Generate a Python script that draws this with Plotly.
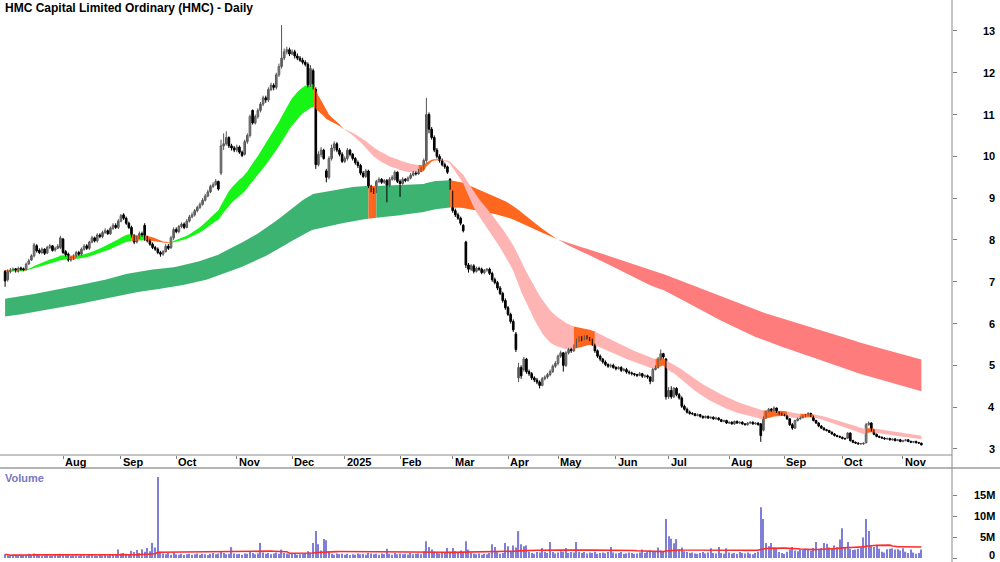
import numpy as np
import pandas as pd
import plotly.graph_objects as go

# ---------------- data ----------------
open_ = [
    7.25, 7.05, 7.24, 7.28, 7.31, 7.25, 7.33, 7.31, 7.30, 7.43,
    7.52, 7.62, 7.86, 7.75, 7.70, 7.78, 7.69, 7.82, 7.86, 7.76,
    7.80, 7.82, 8.02, 7.72, 7.66, 7.52, 7.55, 7.62, 7.70, 7.66,
    7.78, 7.86, 7.80, 7.95, 8.05, 7.98, 8.12, 8.08, 8.18, 8.22,
    8.15, 8.28, 8.35, 8.30, 8.45, 8.60, 8.52, 8.40, 8.30, 8.10,
    7.95, 8.05, 8.15, 8.35, 8.05, 7.98, 7.90, 7.82, 7.78, 7.70,
    7.66, 7.72, 7.85, 7.82, 8.05, 8.25, 8.20, 8.32, 8.38, 8.30,
    8.45, 8.55, 8.60, 8.70, 8.78, 8.85, 8.95, 9.05, 9.15, 9.28,
    9.32, 9.40, 9.60, 10.25, 10.30, 10.45, 10.25, 10.20, 10.15, 10.22,
    10.10, 10.05, 10.35, 10.50, 11.10, 10.80, 10.95, 11.10, 11.25, 11.40,
    11.35, 11.60, 11.70, 11.65, 11.95, 12.15, 12.35, 12.50, 12.55, 12.45,
    12.50, 12.40, 12.35, 12.30, 12.25, 12.20, 11.70, 12.05, 11.60, 9.80,
    10.05, 10.15, 9.65, 9.50, 9.95, 10.20, 10.30, 10.15, 10.05, 9.88,
    9.95, 10.15, 10.05, 9.95, 9.85, 9.78, 9.60, 9.52, 9.65, 9.28,
    9.20, 9.15, 9.40, 9.45, 9.38, 9.42, 9.30, 9.45, 9.45, 9.62,
    9.40, 9.35, 9.45, 9.42, 9.48, 9.55, 9.60, 9.58, 9.65, 9.72,
    9.90, 11.00, 10.65, 10.45, 10.15, 10.00, 9.90, 9.80, 9.75, 9.45,
    9.15, 8.70, 8.60, 8.52, 8.35, 7.95, 7.40, 7.30, 7.38, 7.25,
    7.32, 7.30, 7.22, 7.28, 7.30, 7.20, 7.05, 6.98, 6.85, 6.72,
    6.55, 6.38, 6.22, 6.05, 5.75, 4.70, 4.95, 4.90, 5.15, 4.85,
    4.80, 4.70, 4.65, 4.60, 4.52, 4.68, 4.72, 4.78, 4.85, 4.98,
    5.05, 5.22, 5.30, 5.00, 5.30, 5.38, 5.35, 5.45, 5.60, 5.65,
    5.62, 5.68, 5.65, 5.62, 5.50, 5.35, 5.22, 5.15, 5.08, 5.02,
    4.98, 5.00, 4.95, 4.92, 4.95, 4.88, 4.90, 4.84, 4.82, 4.80,
    4.78, 4.76, 4.80, 4.74, 4.75, 4.72, 4.62, 4.90, 4.95, 5.15,
    5.28, 5.15, 4.25, 4.40, 4.25, 4.45, 4.30, 4.22, 4.02, 3.95,
    3.88, 3.85, 3.84, 3.80, 3.82, 3.78, 3.75, 3.78, 3.74, 3.76,
    3.72, 3.74, 3.70, 3.66, 3.68, 3.62, 3.64, 3.60, 3.66, 3.62,
    3.64, 3.60, 3.58, 3.62, 3.64, 3.60, 3.62, 3.60, 3.45, 3.75,
    3.90, 3.95, 3.92, 3.98, 3.88, 3.85, 3.82, 3.80, 3.72, 3.58,
    3.50, 3.68, 3.72, 3.75, 3.78, 3.82, 3.85, 3.78, 3.68, 3.62,
    3.55, 3.50, 3.46, 3.44, 3.40, 3.36, 3.32, 3.30, 3.28, 3.25,
    3.26, 3.38, 3.20, 3.16, 3.14, 3.12, 3.12, 3.15, 3.58, 3.62,
    3.45, 3.35, 3.30, 3.28, 3.26, 3.24, 3.25, 3.22, 3.24, 3.20,
    3.22, 3.18, 3.20, 3.22, 3.18, 3.16, 3.18, 3.15, 3.14,
]
high = [
    7.28, 7.30, 7.33, 7.34, 7.33, 7.36, 7.36, 7.34, 7.46, 7.55,
    7.66, 7.93, 7.90, 7.80, 7.82, 7.80, 7.86, 7.90, 7.88, 7.84,
    7.90, 8.10, 8.05, 7.76, 7.70, 7.60, 7.66, 7.74, 7.74, 7.82,
    7.90, 7.90, 7.98, 8.10, 8.08, 8.16, 8.16, 8.22, 8.28, 8.25,
    8.32, 8.40, 8.40, 8.50, 8.62, 8.64, 8.56, 8.44, 8.34, 8.14,
    8.10, 8.20, 8.20, 8.40, 8.10, 8.02, 7.94, 7.86, 7.82, 7.74,
    7.76, 7.90, 7.90, 8.10, 8.30, 8.30, 8.36, 8.42, 8.42, 8.50,
    8.60, 8.66, 8.74, 8.82, 8.90, 9.00, 9.10, 9.20, 9.32, 9.38,
    9.46, 9.42, 10.40, 10.55, 10.60, 10.48, 10.30, 10.25, 10.28, 10.26,
    10.14, 10.40, 10.55, 11.00, 11.12, 11.00, 11.15, 11.30, 11.45, 11.45,
    11.65, 11.76, 11.75, 12.00, 12.22, 13.14, 12.58, 12.62, 12.60, 12.56,
    12.55, 12.46, 12.40, 12.36, 12.30, 12.25, 12.18, 12.10, 11.65, 10.12,
    10.22, 10.18, 9.70, 10.00, 10.28, 10.36, 10.34, 10.20, 10.10, 10.00,
    10.20, 10.18, 10.08, 9.98, 9.90, 9.82, 9.65, 9.70, 9.68, 9.32,
    9.25, 9.44, 9.50, 9.48, 9.46, 9.46, 9.50, 9.55, 9.66, 9.64,
    9.45, 9.50, 9.48, 9.52, 9.60, 9.65, 9.64, 9.70, 9.74, 9.95,
    11.40, 11.05, 10.70, 10.50, 10.20, 10.05, 9.95, 9.85, 9.78, 9.48,
    9.18, 8.75, 8.65, 8.56, 8.38, 7.98, 7.45, 7.42, 7.42, 7.36,
    7.36, 7.34, 7.30, 7.33, 7.34, 7.24, 7.10, 7.02, 6.90, 6.76,
    6.60, 6.42, 6.26, 6.10, 5.80, 5.06, 5.00, 5.20, 5.18, 4.90,
    4.84, 4.74, 4.70, 4.64, 4.72, 4.76, 4.82, 4.90, 5.02, 5.10,
    5.26, 5.35, 5.32, 5.34, 5.42, 5.42, 5.50, 5.64, 5.70, 5.70,
    5.72, 5.72, 5.68, 5.64, 5.52, 5.38, 5.26, 5.18, 5.12, 5.05,
    5.04, 5.04, 4.98, 4.98, 4.98, 4.94, 4.94, 4.88, 4.85, 4.82,
    4.80, 4.84, 4.82, 4.78, 4.78, 4.74, 4.94, 5.00, 5.20, 5.38,
    5.30, 5.18, 4.48, 4.50, 4.48, 4.48, 4.34, 4.26, 4.06, 3.99,
    3.92, 3.88, 3.86, 3.85, 3.84, 3.80, 3.80, 3.80, 3.78, 3.78,
    3.77, 3.76, 3.72, 3.70, 3.70, 3.66, 3.66, 3.68, 3.68, 3.66,
    3.66, 3.62, 3.64, 3.66, 3.66, 3.64, 3.64, 3.62, 3.78, 3.92,
    3.98, 3.98, 4.02, 3.99, 3.90, 3.87, 3.84, 3.82, 3.74, 3.62,
    3.70, 3.75, 3.78, 3.80, 3.84, 3.88, 3.87, 3.80, 3.70, 3.64,
    3.57, 3.52, 3.48, 3.46, 3.42, 3.38, 3.34, 3.32, 3.30, 3.27,
    3.40, 3.40, 3.22, 3.18, 3.16, 3.14, 3.16, 3.62, 3.66, 3.64,
    3.47, 3.37, 3.32, 3.30, 3.28, 3.27, 3.27, 3.25, 3.26, 3.24,
    3.24, 3.22, 3.24, 3.23, 3.20, 3.19, 3.20, 3.17, 3.15,
]
low = [
    6.88, 7.00, 7.20, 7.25, 7.22, 7.22, 7.27, 7.25, 7.27, 7.40,
    7.50, 7.58, 7.70, 7.66, 7.66, 7.64, 7.66, 7.78, 7.72, 7.72,
    7.78, 7.78, 7.66, 7.60, 7.48, 7.48, 7.52, 7.58, 7.62, 7.62,
    7.74, 7.76, 7.76, 7.92, 7.94, 7.94, 8.04, 8.04, 8.14, 8.12,
    8.12, 8.24, 8.26, 8.26, 8.42, 8.48, 8.36, 8.26, 8.06, 7.90,
    7.92, 8.02, 8.08, 7.98, 7.94, 7.86, 7.78, 7.74, 7.66, 7.60,
    7.62, 7.70, 7.76, 7.78, 8.00, 8.16, 8.16, 8.28, 8.26, 8.28,
    8.42, 8.52, 8.56, 8.66, 8.74, 8.82, 8.92, 9.02, 9.12, 9.24,
    9.30, 9.18, 9.55, 10.15, 10.26, 10.20, 10.14, 10.10, 10.10, 10.06,
    9.98, 10.02, 10.30, 10.45, 10.76, 10.76, 10.90, 11.05, 11.20, 11.28,
    11.30, 11.56, 11.58, 11.60, 11.90, 12.10, 12.30, 12.44, 12.40, 12.42,
    12.34, 12.30, 12.26, 12.20, 12.15, 11.65, 11.66, 11.60, 9.70, 9.76,
    9.98, 9.92, 9.38, 9.45, 9.90, 10.12, 10.10, 10.00, 9.84, 9.84,
    9.90, 10.00, 9.90, 9.80, 9.72, 9.55, 9.48, 9.48, 9.24, 9.14,
    9.10, 9.12, 9.36, 9.34, 9.34, 8.90, 9.26, 9.42, 9.42, 9.36,
    9.03, 9.32, 9.38, 9.40, 9.45, 9.52, 9.54, 9.56, 9.62, 9.68,
    9.85, 10.55, 10.40, 10.10, 9.95, 9.85, 9.76, 9.70, 9.58, 9.20,
    8.65, 8.55, 8.48, 8.35, 8.18, 7.33, 7.22, 7.26, 7.20, 7.22,
    7.26, 7.18, 7.18, 7.24, 7.16, 7.00, 6.94, 6.80, 6.68, 6.50,
    6.33, 6.18, 6.00, 5.80, 5.32, 4.60, 4.68, 4.85, 4.80, 4.75,
    4.65, 4.60, 4.55, 4.45, 4.50, 4.64, 4.68, 4.74, 4.82, 4.94,
    5.00, 5.18, 4.85, 4.96, 5.26, 5.30, 5.32, 5.42, 5.56, 5.58,
    5.60, 5.62, 5.58, 5.46, 5.30, 5.18, 5.10, 5.04, 4.98, 4.94,
    4.94, 4.92, 4.88, 4.90, 4.84, 4.85, 4.80, 4.78, 4.76, 4.74,
    4.72, 4.74, 4.70, 4.70, 4.68, 4.55, 4.60, 4.88, 4.92, 5.12,
    5.16, 4.18, 4.20, 4.20, 4.22, 4.26, 4.18, 3.98, 3.92, 3.85,
    3.82, 3.81, 3.78, 3.78, 3.75, 3.72, 3.73, 3.72, 3.72, 3.70,
    3.70, 3.68, 3.64, 3.64, 3.60, 3.60, 3.58, 3.58, 3.60, 3.60,
    3.58, 3.56, 3.56, 3.60, 3.58, 3.58, 3.56, 3.17, 3.42, 3.72,
    3.88, 3.89, 3.90, 3.86, 3.82, 3.80, 3.78, 3.70, 3.55, 3.46,
    3.48, 3.66, 3.70, 3.73, 3.76, 3.80, 3.76, 3.66, 3.60, 3.52,
    3.48, 3.44, 3.42, 3.38, 3.34, 3.30, 3.28, 3.26, 3.23, 3.22,
    3.24, 3.18, 3.14, 3.12, 3.10, 3.10, 3.10, 3.13, 3.56, 3.42,
    3.33, 3.28, 3.26, 3.24, 3.22, 3.22, 3.20, 3.20, 3.18, 3.19,
    3.16, 3.16, 3.18, 3.16, 3.14, 3.14, 3.13, 3.12, 3.08,
]
close = [
    7.02, 7.25, 7.28, 7.30, 7.26, 7.32, 7.30, 7.28, 7.42, 7.50,
    7.62, 7.88, 7.74, 7.70, 7.78, 7.68, 7.82, 7.86, 7.75, 7.80,
    7.85, 8.05, 7.70, 7.65, 7.52, 7.55, 7.62, 7.70, 7.66, 7.78,
    7.85, 7.80, 7.95, 8.05, 7.98, 8.12, 8.08, 8.18, 8.22, 8.15,
    8.28, 8.35, 8.30, 8.45, 8.58, 8.52, 8.40, 8.30, 8.10, 7.95,
    8.05, 8.15, 8.12, 8.05, 7.98, 7.90, 7.82, 7.78, 7.70, 7.66,
    7.72, 7.85, 7.80, 8.05, 8.25, 8.20, 8.32, 8.38, 8.30, 8.45,
    8.55, 8.60, 8.70, 8.78, 8.85, 8.95, 9.05, 9.15, 9.28, 9.32,
    9.40, 9.22, 10.25, 10.30, 10.45, 10.25, 10.20, 10.15, 10.22, 10.10,
    10.02, 10.35, 10.50, 10.95, 10.80, 10.95, 11.10, 11.25, 11.40, 11.35,
    11.60, 11.70, 11.65, 11.95, 12.15, 12.35, 12.50, 12.55, 12.45, 12.50,
    12.40, 12.35, 12.30, 12.25, 12.20, 11.70, 12.10, 11.65, 9.80, 10.05,
    10.15, 9.95, 9.50, 9.95, 10.20, 10.30, 10.15, 10.05, 9.88, 9.95,
    10.15, 10.05, 9.95, 9.85, 9.78, 9.60, 9.52, 9.65, 9.28, 9.20,
    9.15, 9.40, 9.45, 9.38, 9.42, 9.30, 9.45, 9.50, 9.62, 9.40,
    9.35, 9.45, 9.42, 9.48, 9.55, 9.60, 9.58, 9.65, 9.70, 9.90,
    11.00, 10.65, 10.45, 10.15, 10.00, 9.90, 9.80, 9.75, 9.62, 9.25,
    8.70, 8.60, 8.52, 8.40, 8.22, 7.40, 7.30, 7.38, 7.25, 7.32,
    7.30, 7.22, 7.28, 7.30, 7.20, 7.05, 6.98, 6.85, 6.72, 6.55,
    6.38, 6.22, 6.05, 5.85, 5.38, 4.95, 4.75, 5.15, 4.85, 4.80,
    4.70, 4.65, 4.60, 4.52, 4.68, 4.72, 4.78, 4.85, 4.98, 5.05,
    5.22, 5.30, 5.00, 5.30, 5.38, 5.35, 5.45, 5.60, 5.65, 5.62,
    5.68, 5.65, 5.62, 5.50, 5.35, 5.22, 5.15, 5.08, 5.02, 4.98,
    5.00, 4.95, 4.92, 4.95, 4.88, 4.90, 4.84, 4.82, 4.80, 4.78,
    4.76, 4.80, 4.74, 4.75, 4.72, 4.62, 4.90, 4.95, 5.15, 5.28,
    5.20, 4.25, 4.40, 4.25, 4.45, 4.30, 4.22, 4.02, 3.95, 3.88,
    3.85, 3.84, 3.80, 3.82, 3.78, 3.75, 3.78, 3.74, 3.76, 3.72,
    3.74, 3.70, 3.66, 3.68, 3.62, 3.64, 3.60, 3.66, 3.62, 3.64,
    3.60, 3.58, 3.62, 3.64, 3.60, 3.62, 3.58, 3.32, 3.75, 3.90,
    3.95, 3.92, 3.98, 3.88, 3.85, 3.82, 3.80, 3.72, 3.58, 3.50,
    3.68, 3.72, 3.75, 3.78, 3.82, 3.85, 3.78, 3.68, 3.62, 3.55,
    3.50, 3.46, 3.44, 3.40, 3.36, 3.32, 3.30, 3.28, 3.25, 3.24,
    3.38, 3.20, 3.16, 3.14, 3.12, 3.12, 3.14, 3.58, 3.62, 3.45,
    3.35, 3.30, 3.28, 3.26, 3.24, 3.25, 3.22, 3.24, 3.20, 3.22,
    3.18, 3.20, 3.22, 3.18, 3.16, 3.18, 3.15, 3.14, 3.10,
]
volume_m = [
    0.9, 0.6, 0.5, 0.7, 0.6, 0.5, 0.8, 0.6, 0.7, 1.0,
    0.8, 1.1, 0.7, 0.6, 0.5, 0.6, 0.7, 0.5, 0.6, 0.7,
    0.6, 1.0, 0.8, 0.6, 0.7, 0.5, 0.6, 0.6, 0.5, 0.7,
    0.6, 0.5, 0.8, 0.7, 0.6, 0.5, 0.7, 0.6, 0.8, 0.6,
    0.7, 0.9, 0.8, 2.0, 1.1, 1.2, 1.0, 0.9, 1.7, 1.4,
    1.9, 1.2, 2.1, 1.5, 2.4, 1.6, 3.6, 2.5, 19.3, 1.5,
    1.1, 0.9, 1.2, 0.8, 1.3, 0.9, 0.8, 1.0, 0.7, 0.9,
    1.0, 0.8, 0.9, 1.1, 0.8, 1.0, 0.9, 0.7, 1.0, 1.2,
    0.9, 1.1, 1.6, 1.2, 0.9, 1.0, 2.6, 1.1, 0.9, 1.0,
    0.8, 1.1, 1.0, 1.4, 1.2, 0.9, 1.1, 3.6, 1.3, 1.0,
    1.2, 0.9, 1.1, 1.3, 1.0, 2.0, 1.2, 1.1, 0.9, 1.0,
    1.1, 0.8, 0.9, 1.0, 1.2, 1.6, 1.3, 3.6, 6.4, 3.3,
    1.8, 4.5, 4.2, 1.5, 1.0, 0.8, 1.1, 0.9, 1.0, 0.8,
    1.0, 0.7, 0.9, 0.8, 1.1, 0.9, 1.0, 0.8, 1.2, 1.1,
    0.9, 1.0, 0.8, 1.1, 0.9, 2.2, 1.0, 0.8, 1.2, 0.9,
    1.1, 0.9, 1.0, 0.8, 1.2, 0.9, 1.0, 1.1, 0.9, 1.6,
    4.0, 2.6, 2.0, 1.5, 1.3, 1.1, 1.4, 1.2, 2.4, 1.5,
    2.4, 1.6, 1.3, 1.8, 1.2, 4.0, 2.0, 1.2, 1.0, 0.9,
    1.1, 0.8, 1.0, 0.9, 1.2, 3.3, 2.6, 1.4, 1.0, 1.2,
    3.6, 2.8, 1.5, 3.0, 2.5, 6.4, 3.3, 2.8, 3.0, 1.5,
    1.2, 1.0, 1.4, 1.3, 2.4, 1.5, 1.2, 3.8, 1.4, 1.1,
    1.3, 1.6, 1.5, 2.4, 1.2, 1.4, 1.3, 3.8, 1.5, 1.2,
    1.4, 1.1, 1.3, 1.2, 1.5, 1.0, 1.2, 1.3, 1.1, 1.4,
    2.6, 1.3, 1.1, 1.2, 1.4, 1.0, 1.1, 1.3, 1.2, 1.0,
    1.1, 1.3, 2.0, 1.2, 1.5, 1.8, 1.6, 1.4, 2.5, 1.8,
    1.6, 9.3, 5.2, 4.6, 3.5, 4.5, 2.0, 2.5, 1.6, 1.4,
    1.2, 1.3, 1.1, 1.0, 1.2, 1.4, 1.1, 1.3, 2.3, 1.2,
    1.1, 2.6, 1.2, 1.0, 2.3, 1.3, 1.1, 1.2, 1.0, 1.4,
    1.2, 1.1, 1.3, 1.0, 0.9, 1.2, 1.5, 12.1, 9.3, 3.6,
    2.8, 3.6, 2.5, 2.2, 1.4, 1.2, 1.0, 1.5, 2.0, 2.6,
    1.8, 1.6, 2.0, 1.9, 2.2, 2.0, 1.7, 2.4, 3.8, 2.0,
    2.3, 3.6, 3.4, 2.5, 2.2, 3.0, 2.6, 4.4, 7.1, 2.4,
    3.8, 2.2, 1.9, 2.0, 2.2, 2.4, 4.9, 9.3, 6.4, 2.8,
    2.6, 2.9, 2.2, 1.5, 1.3, 2.1, 2.2, 2.3, 2.0, 2.1,
    1.8, 2.3, 1.5, 1.2, 2.0, 1.3, 1.0, 1.2, 2.0,
]

price_ticks = [3, 4, 5, 6, 7, 8, 9, 10, 11, 12, 13]
volume_ticks = [0, 5, 10, 15]
volume_tick_text = ["0", "5M", "10M", "15M"]
asx_holidays = ["2024-12-25", "2024-12-26", "2025-01-01", "2025-01-27",
                "2025-04-18", "2025-04-21", "2025-04-25", "2025-06-09"]

short_periods = (24, 40)
short_seeds = (7.30, 7.26)
long_periods = (150, 240)
long_seeds = (6.59, 6.16)
vol_ma_window = 50

# ---------------- derived ----------------
n = len(close)
dates = pd.bdate_range("2024-07-02", "2025-11-14")
dates = dates[~dates.isin(pd.to_datetime(asx_holidays))][:n]
idx = np.arange(n)

o = np.array(open_); c = np.array(close)
h = np.maximum(np.array(high), np.maximum(o, c))
l = np.minimum(np.array(low), np.minimum(o, c))

month_idx, month_txt = [], []
for i in range(1, n):
    if dates[i].month != dates[i - 1].month:
        month_idx.append(i)
        month_txt.append("2025" if dates[i].month == 1 else dates[i].strftime("%b"))


def ema(vals, period, seed):
    a = 2.0 / (period + 1)
    out, e = [], seed
    for v in vals:
        e = e + a * (v - e)
        out.append(e)
    return np.array(out)


def band_traces(fast, slow, fast_seed, colors):
    prev = np.concatenate([[fast_seed], fast[:-1]])
    rising = fast >= prev
    state = np.where((fast > slow) & rising, 0, np.where((fast < slow) & ~rising, 2, 1))
    upper = np.maximum(fast, slow)
    lower = np.minimum(fast, slow)
    traces = []
    s = 0
    for i in range(1, n + 1):
        if i == n or state[i] != state[s]:
            e = min(i, n - 1)
            xs = list(idx[s:e + 1]) + list(idx[s:e + 1][::-1])
            ys = list(upper[s:e + 1]) + list(lower[s:e + 1][::-1])
            traces.append(go.Scatter(x=xs, y=ys, mode="lines", fill="toself",
                                     fillcolor=colors[state[s]], line=dict(width=0),
                                     hoverinfo="skip", showlegend=False,
                                     xaxis="x", yaxis="y"))
            s = i
    return traces


s_fast = ema(c, short_periods[0], short_seeds[0])
s_slow = ema(c, short_periods[1], short_seeds[1])
l_fast = ema(c, long_periods[0], long_seeds[0])
l_slow = ema(c, long_periods[1], long_seeds[1])

ORANGE = "#FF671F"
fig = go.Figure()
for t in band_traces(l_fast, l_slow, long_seeds[0], ["#3CB371", ORANGE, "#FF7C7C"]):
    fig.add_trace(t)
for t in band_traces(s_fast, s_slow, short_seeds[0], ["#16F516", ORANGE, "#FFB4B4"]):
    fig.add_trace(t)

# candles: wicks + bodies
up = c >= o
for mask, wick_col in [(up, "#555555"), (~up, "black")]:
    wx, wy = [], []
    for i in idx[mask]:
        wx += [i, i, None]
        wy += [l[i], h[i], None]
    fig.add_trace(go.Scatter(x=wx, y=wy, mode="lines", line=dict(color=wick_col, width=1),
                             hoverinfo="skip", showlegend=False, xaxis="x", yaxis="y"))
for mask, fill_col, line_col in [(up, "white", "#555555"), (~up, "black", "black")]:
    base = np.minimum(o, c)[mask]
    body = np.maximum(np.abs(c - o)[mask], 0.012)
    fig.add_trace(go.Bar(x=idx[mask], y=body, base=base, width=0.62,
                         marker=dict(color=fill_col, line=dict(color=line_col, width=1)),
                         hoverinfo="skip", showlegend=False, xaxis="x", yaxis="y"))

vol_ma = pd.Series(volume_m).rolling(vol_ma_window, min_periods=1).mean()
fig.add_trace(go.Bar(x=idx, y=volume_m, width=0.45, marker=dict(color="#7F7FD8", line=dict(width=0)),
                     hoverinfo="skip", showlegend=False, xaxis="x2", yaxis="y2"))
fig.add_trace(go.Scatter(x=idx, y=vol_ma, mode="lines", line=dict(color="#FF2A2A", width=1.6),
                         hoverinfo="skip", showlegend=False, xaxis="x2", yaxis="y2"))

# pixel geometry
X0 = -5.1 / 2.633
X1 = (952 - 5.1) / 2.633
XD = 0.952
price_bottom = (562 - 455) / 562
vol_top = (562 - 468) / 562
FONT = "Arial, Liberation Sans, sans-serif"

fig.update_layout(
    width=1000, height=562, margin=dict(l=0, r=0, t=0, b=0),
    paper_bgcolor="white", plot_bgcolor="white", showlegend=False, barmode="overlay",
    xaxis=dict(domain=[0, XD], range=[X0, X1], showgrid=False, zeroline=False,
               showticklabels=False, ticks="outside", ticklen=3, tickcolor="#808080",
               tickvals=month_idx, anchor="y", fixedrange=True),
    yaxis=dict(domain=[price_bottom, 1], range=[2.856, 13.74], side="right", anchor="x",
               showgrid=False, zeroline=False, showticklabels=False, ticks="outside",
               ticklen=4, tickcolor="#808080", tickvals=price_ticks),
    xaxis2=dict(domain=[0, XD], range=[X0, X1], showgrid=False, zeroline=False,
                showticklabels=False, anchor="y2"),
    yaxis2=dict(domain=[0, vol_top], range=[-0.952, 21.43], side="right", anchor="x2",
                showgrid=False, zeroline=False, showticklabels=False, ticks="outside",
                ticklen=4, tickcolor="#808080", tickvals=volume_ticks),
)

shapes = [
    dict(type="line", xref="paper", yref="paper", x0=0, x1=XD, y0=price_bottom, y1=price_bottom,
         line=dict(color="#8A8A8A", width=1)),
    dict(type="line", xref="paper", yref="paper", x0=0, x1=1, y0=vol_top, y1=vol_top,
         line=dict(color="#6A6A6A", width=1)),
    dict(type="line", xref="paper", yref="paper", x0=XD, x1=XD, y0=0, y1=1,
         line=dict(color="#8A8A8A", width=1)),
]
fig.update_layout(shapes=shapes)

ann = [dict(text="<b>HMC Capital Limited Ordinary (HMC) - Daily</b>", xref="paper", yref="paper",
            x=0.003, y=1 - 8 / 562, xanchor="left", yanchor="middle", showarrow=False,
            font=dict(family=FONT, size=12, color="black")),
       dict(text="<b>Volume</b>", xref="paper", yref="paper", x=0.003, y=1 - 478 / 562,
            xanchor="left", yanchor="middle", showarrow=False,
            font=dict(family=FONT, size=11, color="#7777C4"))]
for v in price_ticks:
    ann.append(dict(text=f"<b>{v}</b>", xref="paper", yref="y", x=0.997, y=v, xanchor="right",
                    yanchor="middle", showarrow=False, font=dict(family=FONT, size=11, color="black")))
for v, t in zip(volume_ticks, volume_tick_text):
    ann.append(dict(text=f"<b>{t}</b>", xref="paper", yref="y2", x=0.997, y=v, xanchor="right",
                    yanchor="middle", yshift=(3 if v == 0 else 0), showarrow=False,
                    font=dict(family=FONT, size=11, color="black")))
for i, t in zip(month_idx, month_txt):
    ann.append(dict(text=f"<b>{t}</b>", xref="x", yref="paper", x=i, y=(562 - 462) / 562,
                    xanchor="left", yanchor="middle", showarrow=False,
                    font=dict(family=FONT, size=11, color="black")))
fig.update_layout(annotations=ann)

fig.write_html("out.html")
